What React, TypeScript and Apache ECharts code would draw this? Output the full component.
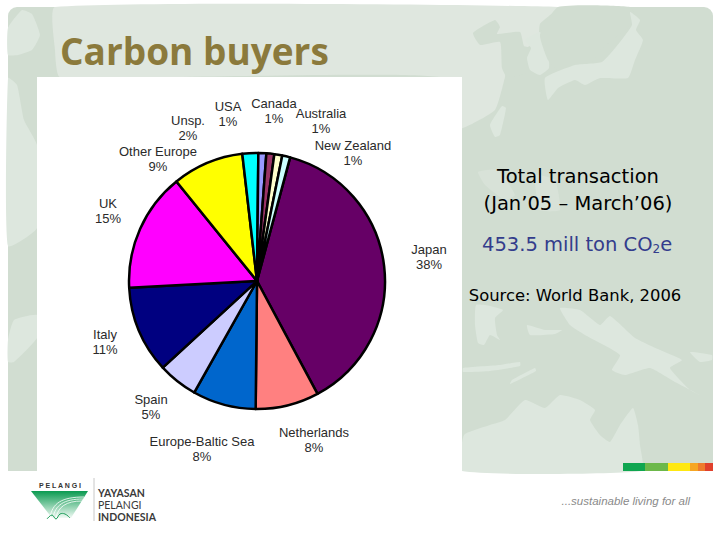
import React, { useEffect, useRef } from "react";
import * as echarts from "echarts";

const names = ["Japan", "Netherlands", "Europe-Baltic Sea", "Spain", "Italy", "UK", "Other Europe", "Unsp.", "USA", "Canada", "Australia", "New Zealand"];
const shares = [38, 8, 8, 5, 11, 15, 9, 2, 1, 1, 1, 1];
const sliceColors = ["#660066", "#ff8080", "#0066cc", "#ccccff", "#000080", "#ff00ff", "#ffff00", "#00ffff", "#9999ff", "#993366", "#ffffcc", "#ccffff"];
const labelCenters: [number, number][] = [[429, 257], [314, 440], [202, 449], [151, 407], [105, 342], [108, 211], [158, 159], [188, 128], [228, 114], [274, 111], [321, 121], [353, 153]];
const noteLines = ["Total transaction", "(Jan’05 – March’06)"];
const amountText = "453.5 mill ton ";
const sourceText = "Source: World Bank, 2006";
const titleText = "Carbon buyers";
const stripeColors = ["#0fa650", "#6cb84a", "#ffe812", "#f6a623", "#ee7b2d", "#e0402c"];

const LAND = "#dde7de";
const SEA = "#d1ddd1";

const land = (pts: number[][], fill = LAND) => ({
  type: "polygon",
  shape: { points: pts, smooth: 0.15 },
  style: { fill },
  silent: true,
});

const txt = (x: number, y: number, text: string, font: string, fill: string, align = "center") => ({
  type: "text",
  x,
  y,
  style: { text, font, fill, align, verticalAlign: "middle" },
  silent: true,
});

export default function App() {
  const ref = useRef<HTMLDivElement>(null);
  useEffect(() => {
    const chart = echarts.init(ref.current!, undefined, { renderer: "svg" });
    const stripes = [623, 645, 668, 690, 698, 705, 713];
    const noteFont = '19.5px "DejaVu Sans"';
    chart.setOption({
      animation: false,
      backgroundColor: "#ffffff",
      graphic: [
        { type: "rect", shape: { x: 8, y: 7, width: 705, height: 464, r: [9, 9, 0, 0] }, style: { fill: SEA }, silent: true },
        land([[55, 7], [558, 7], [540, 24], [538, 40], [508, 60], [505, 77], [495, 110], [463, 128], [440, 128], [440, 77], [60, 77], [55, 50]], "#dfe7df"),
        land([[473, 33], [495, 20], [500, 27], [497, 34], [520, 32], [524, 46], [531, 48], [527, 58], [530, 72], [507, 77], [502, 68], [500, 42], [480, 45]], SEA),
        land([[525, 40], [540, 32], [548, 50], [549, 68], [540, 75], [530, 70], [527, 58], [531, 48]]),
        land([[558, 7], [630, 7], [636, 20], [600, 50], [590, 65], [560, 72], [548, 60], [540, 35]], SEA),
        land([[630, 12], [640, 20], [636, 30], [643, 40], [635, 60], [628, 78], [600, 78], [585, 85], [575, 80], [558, 88], [548, 100], [545, 78], [575, 65], [602, 62], [620, 42], [632, 25]]),
        land([[502, 106], [506, 108], [500, 135], [495, 137], [490, 125]]),
        land([[478, 172], [498, 170], [515, 195], [505, 200], [485, 185]], "#d8e2d8"),
        land([[535, 175], [555, 180], [560, 210], [540, 210]], "#d8e2d8"),
        land([[476, 305], [490, 306], [503, 310], [495, 318], [497, 335], [500, 340], [490, 335], [484, 345], [478, 343], [475, 325]]),
        land([[527, 325], [545, 330], [562, 330], [555, 334], [530, 335]]),
        land([[560, 308], [580, 310], [600, 325], [610, 316], [635, 338], [660, 350], [682, 360], [670, 368], [690, 390], [700, 395], [675, 382], [650, 368], [625, 375], [612, 370], [620, 355], [585, 335], [570, 325]]),
        land([[690, 352], [712, 355], [712, 360], [700, 362]]),
        land([[463, 368], [500, 365], [520, 362], [520, 366], [490, 371], [463, 372]]),
        land([[512, 380], [535, 368], [536, 371], [510, 384]]),
        land([[464, 435], [490, 425], [505, 420], [525, 400], [545, 408], [560, 395], [580, 400], [595, 410], [590, 420], [600, 435], [610, 442], [620, 425], [633, 408], [638, 425], [640, 445], [642, 471], [462, 471]]),
        land([[8, 28], [22, 10], [32, 14], [40, 35], [32, 50], [18, 55], [8, 55]]),
        land([[8, 78], [17, 85], [24, 120], [37, 145], [37, 228], [8, 246]]),
        land([[14, 320], [37, 315], [37, 338], [14, 362], [8, 362], [8, 340]]),

        { type: "rect", shape: { x: 37, y: 77, width: 425, height: 394 }, style: { fill: "#ffffff" }, silent: true },

        txt(60, 50, titleText, 'bold 37px "Open Sans"', "#8b7a3c", "left"),
        txt(578, 176, noteLines[0], noteFont, "#000000"),
        txt(578, 203, noteLines[1], noteFont, "#000000"),
        {
          type: "text",
          x: 482,
          y: 244,
          style: {
            text: `{a|${amountText}CO}{s|2}{a|e}`,
            align: "left",
            verticalAlign: "middle",
            rich: {
              a: { font: noteFont, fill: "#333c8c" },
              s: { font: '12px "DejaVu Sans"', fill: "#333c8c", padding: [9, 0, 0, 0] },
            },
          },
          silent: true,
        },
        txt(575, 295, sourceText, '16.4px "DejaVu Sans"', "#000000"),

        ...stripeColors.map((c, i) => ({
          type: "rect",
          shape: { x: stripes[i], y: 463, width: stripes[i + 1] - stripes[i], height: 8 },
          style: { fill: c },
          silent: true,
        })),

        txt(60, 485, "P E L A N G I", 'bold 7px "Liberation Sans"', "#333333"),
        {
          type: "polygon",
          shape: { points: [[31, 491], [88, 491], [71, 518], [52, 518]] },
          style: {
            fill: new echarts.graphic.LinearGradient(0, 0, 0, 1, [
              { offset: 0, color: "#0a9a50" },
              { offset: 1, color: "#f2faf5" },
            ]),
          },
          silent: true,
        },
        ...[0, 1, 2].map((i) => ({
          type: "bezierCurve",
          shape: { x1: 50 + i * 3, y1: 518, cpx1: 52 + i * 3, cpy1: 503 + i * 2, cpx2: 62 + i * 2, cpy2: 497 + i * 2, x2: 84 - i, y2: 497 + i * 2 },
          style: { stroke: "#ffffff", lineWidth: 0.8, fill: "none" },
          silent: true,
        })),
        { type: "polyline", shape: { points: [[47, 519], [52, 515], [56, 519], [60, 514], [65, 514], [70, 518]], smooth: 0.4 }, style: { stroke: "#1f9e5a", lineWidth: 1, fill: "none" }, silent: true },
        { type: "line", shape: { x1: 94, y1: 478, x2: 94, y2: 521 }, style: { stroke: "#c8c8c8", lineWidth: 1 }, silent: true },
        txt(98, 493, "YAYASAN", 'bold 10.5px "Lato"', "#3a3a3a", "left"),
        txt(98, 505, "PELANGI", '10.5px "Lato"', "#3a3a3a", "left"),
        txt(98, 517, "INDONESIA", 'bold 10.5px "Lato"', "#3a3a3a", "left"),
        txt(690, 501, "...sustainable living for all", 'italic 11.5px "Liberation Sans"', "#8a8a8a", "right"),
      ],
      series: [
        {
          type: "pie",
          center: [257, 281],
          radius: [0, 128],
          startAngle: 75,
          clockwise: true,
          silent: true,
          data: names.map((name, i) => ({ name, value: shares[i], itemStyle: { color: sliceColors[i] } })),
          itemStyle: { borderColor: "#000000", borderWidth: 2.5 },
          label: {
            show: true,
            formatter: "{b}\n{c}%",
            fontFamily: "Liberation Sans",
            fontSize: 13,
            lineHeight: 15,
            color: "#2a2a2a",
            align: "center",
          },
          labelLine: { show: false },
          labelLayout: (p: any) => ({
            x: labelCenters[p.dataIndex][0],
            y: labelCenters[p.dataIndex][1],
            align: "center",
            verticalAlign: "middle",
          }),
        },
      ],
    });
    return () => chart.dispose();
  }, []);
  return <div ref={ref} style={{ position: "fixed", left: 0, top: 0, width: 720, height: 540 }} />;
}
